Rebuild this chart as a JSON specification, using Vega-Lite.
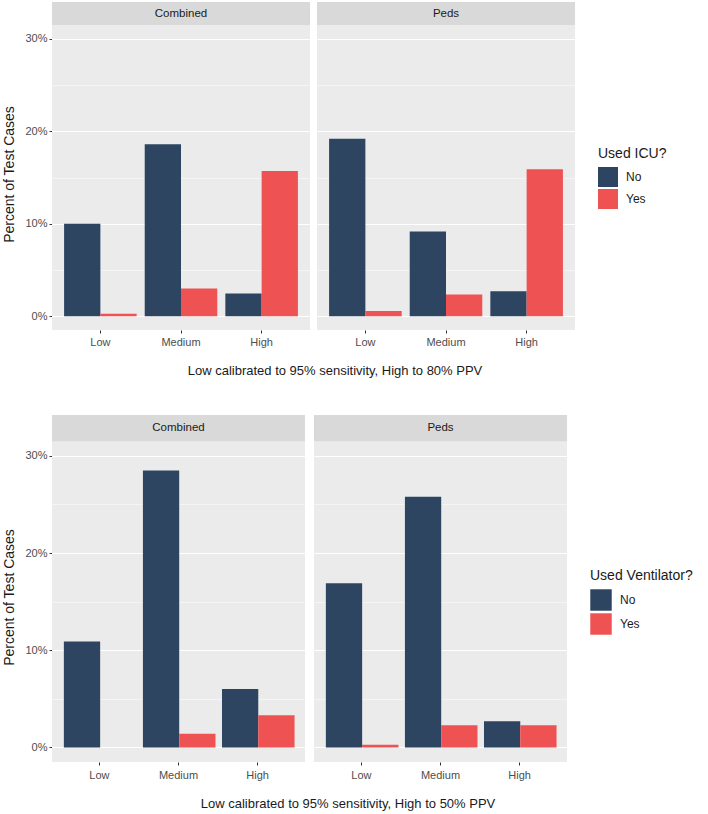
{
  "$schema": "https://vega.github.io/schema/vega-lite/v6.json",
  "padding": {"left": 2, "top": 2, "right": 2, "bottom": 0},
  "background": "white",
  "config": {
    "font": "Liberation Sans",
    "view": {"stroke": null, "fill": "#EBEBEB"},
    "axis": {
      "domain": false,
      "gridColor": "white",
      "labelColor": "#4D4D4D",
      "labelFontSize": 11,
      "tickColor": "#333333",
      "tickSize": 3,
      "titleFontWeight": "normal",
      "titleColor": "#1A1A1A",
      "titleFontSize": 14
    },
    "legend": {
      "titleFontWeight": "normal",
      "titleFontSize": 14,
      "titleColor": "#1A1A1A",
      "labelFontSize": 12,
      "labelColor": "#1A1A1A",
      "symbolType": "square",
      "symbolStrokeWidth": 0,
      "symbolOpacity": 1,
      "labelOffset": 8,
      "titlePadding": 6,
      "rowPadding": 2
    },
    "title": {"fontWeight": "normal", "fontSize": 13, "color": "#1A1A1A"}
  },
  "datasets": {
    "icu": [
      {"panel": "Combined", "level": "Low", "used": "No", "pct": 10.0},
      {"panel": "Combined", "level": "Low", "used": "Yes", "pct": 0.25},
      {"panel": "Combined", "level": "Medium", "used": "No", "pct": 18.6},
      {"panel": "Combined", "level": "Medium", "used": "Yes", "pct": 3.0},
      {"panel": "Combined", "level": "High", "used": "No", "pct": 2.45},
      {"panel": "Combined", "level": "High", "used": "Yes", "pct": 15.7},
      {"panel": "Peds", "level": "Low", "used": "No", "pct": 19.2},
      {"panel": "Peds", "level": "Low", "used": "Yes", "pct": 0.55},
      {"panel": "Peds", "level": "Medium", "used": "No", "pct": 9.15},
      {"panel": "Peds", "level": "Medium", "used": "Yes", "pct": 2.35},
      {"panel": "Peds", "level": "High", "used": "No", "pct": 2.7},
      {"panel": "Peds", "level": "High", "used": "Yes", "pct": 15.9}
    ],
    "vent": [
      {"panel": "Combined", "level": "Low", "used": "No", "pct": 10.9},
      {"panel": "Combined", "level": "Low", "used": "Yes", "pct": 0},
      {"panel": "Combined", "level": "Medium", "used": "No", "pct": 28.5},
      {"panel": "Combined", "level": "Medium", "used": "Yes", "pct": 1.4},
      {"panel": "Combined", "level": "High", "used": "No", "pct": 6.0},
      {"panel": "Combined", "level": "High", "used": "Yes", "pct": 3.3},
      {"panel": "Peds", "level": "Low", "used": "No", "pct": 16.9},
      {"panel": "Peds", "level": "Low", "used": "Yes", "pct": 0.28},
      {"panel": "Peds", "level": "Medium", "used": "No", "pct": 25.8},
      {"panel": "Peds", "level": "Medium", "used": "Yes", "pct": 2.27},
      {"panel": "Peds", "level": "High", "used": "No", "pct": 2.68},
      {"panel": "Peds", "level": "High", "used": "Yes", "pct": 2.27}
    ]
  },
  "vconcat": [
    {
      "data": {"name": "icu"},
      "title": {"text": "Low calibrated to 95% sensitivity, High to 80% PPV", "orient": "bottom", "anchor": "middle", "offset": 18},
      "facet": {"column": {"field": "panel", "type": "nominal", "header": {"labels": false, "title": null}}},
      "spacing": 7,
      "spec": {
        "width": 258,
        "height": 328,
        "layer": [
          {
            "mark": {"type": "bar", "width": {"band": 1}},
            "encoding": {
              "x": {
                "field": "level", "type": "nominal", "sort": ["Low", "Medium", "High"],
                "scale": {"paddingInner": 0.1, "paddingOuter": 0.15},
                "axis": {"title": null, "labelAngle": 0, "bandPosition": 0.5, "gridWidth": 1.1, "labelPadding": 3}
              },
              "xOffset": {"field": "used", "type": "nominal", "scale": {"paddingInner": 0, "paddingOuter": 0}},
              "y": {
                "field": "pct", "type": "quantitative",
                "scale": {"domain": [-1.5, 34], "nice": false, "zero": false},
                "axis": {
                  "title": "Percent of Test Cases",
                  "values": [0, 5, 10, 15, 20, 25, 30],
                  "labelExpr": "datum.value % 10 === 0 ? datum.value + '%' : ''",
                  "gridWidth": {"condition": {"test": "datum.value % 10 === 0", "value": 1.1}, "value": 0.5},
                  "tickOpacity": {"condition": {"test": "datum.value % 10 === 0", "value": 1}, "value": 0},
                  "titleY": 172,
                  "titlePadding": 8
                }
              },
              "color": {
                "field": "used", "type": "nominal", "title": "Used ICU?",
                "scale": {"domain": ["No", "Yes"], "range": ["#2D4560", "#EF5252"]},
                "legend": {"orient": "none", "legendX": 546, "legendY": 145, "symbolSize": 400}
              }
            }
          },
          {
            "transform": [{"filter": "datum.level === 'Low' && datum.used === 'No'"}],
            "mark": {"type": "rect", "color": "#D9D9D9"},
            "encoding": {"y": {"datum": 31.5}, "y2": {"datum": 34}}
          },
          {
            "transform": [{"filter": "datum.level === 'Medium' && datum.used === 'No'"}],
            "mark": {"type": "text", "fontSize": 11.5, "color": "#1A1A1A", "baseline": "middle"},
            "encoding": {
              "x": {"field": "level", "type": "nominal", "sort": ["Low", "Medium", "High"]},
              "y": {"datum": 32.75},
              "text": {"field": "panel"}
            }
          }
        ]
      }
    },
    {
      "data": {"name": "vent"},
      "title": {"text": "Low calibrated to 95% sensitivity, High to 50% PPV", "orient": "bottom", "anchor": "middle", "offset": 18},
      "facet": {"column": {"field": "panel", "type": "nominal", "header": {"labels": false, "title": null}}},
      "spacing": 9,
      "spec": {
        "width": 253,
        "height": 347,
        "layer": [
          {
            "mark": {"type": "bar", "width": {"band": 1}},
            "encoding": {
              "x": {
                "field": "level", "type": "nominal", "sort": ["Low", "Medium", "High"],
                "scale": {"paddingInner": 0.1, "paddingOuter": 0.15},
                "axis": {"title": null, "labelAngle": 0, "bandPosition": 0.5, "gridWidth": 1.1, "labelPadding": 4}
              },
              "xOffset": {"field": "used", "type": "nominal", "scale": {"paddingInner": 0, "paddingOuter": 0}},
              "y": {
                "field": "pct", "type": "quantitative",
                "scale": {"domain": [-1.5, 34.2], "nice": false, "zero": false},
                "axis": {
                  "title": "Percent of Test Cases",
                  "values": [0, 5, 10, 15, 20, 25, 30],
                  "labelExpr": "datum.value % 10 === 0 ? datum.value + '%' : ''",
                  "gridWidth": {"condition": {"test": "datum.value % 10 === 0", "value": 1.1}, "value": 0.5},
                  "tickOpacity": {"condition": {"test": "datum.value % 10 === 0", "value": 1}, "value": 0},
                  "titleY": 182,
                  "titlePadding": 8
                }
              },
              "color": {
                "field": "used", "type": "nominal", "title": "Used Ventilator?",
                "scale": {"domain": ["No", "Yes"], "range": ["#2D4560", "#EF5252"]},
                "legend": {"orient": "none", "legendX": 538, "legendY": 154, "symbolSize": 460}
              }
            }
          },
          {
            "transform": [{"filter": "datum.level === 'Low' && datum.used === 'No'"}],
            "mark": {"type": "rect", "color": "#D9D9D9"},
            "encoding": {"y": {"datum": 31.5}, "y2": {"datum": 34.2}}
          },
          {
            "transform": [{"filter": "datum.level === 'Medium' && datum.used === 'No'"}],
            "mark": {"type": "text", "fontSize": 11.5, "color": "#1A1A1A", "baseline": "middle"},
            "encoding": {
              "x": {"field": "level", "type": "nominal", "sort": ["Low", "Medium", "High"]},
              "y": {"datum": 32.85},
              "text": {"field": "panel"}
            }
          }
        ]
      }
    }
  ],
  "spacing": 37,
  "resolve": {"scale": {"color": "independent"}, "legend": {"color": "independent"}}
}
